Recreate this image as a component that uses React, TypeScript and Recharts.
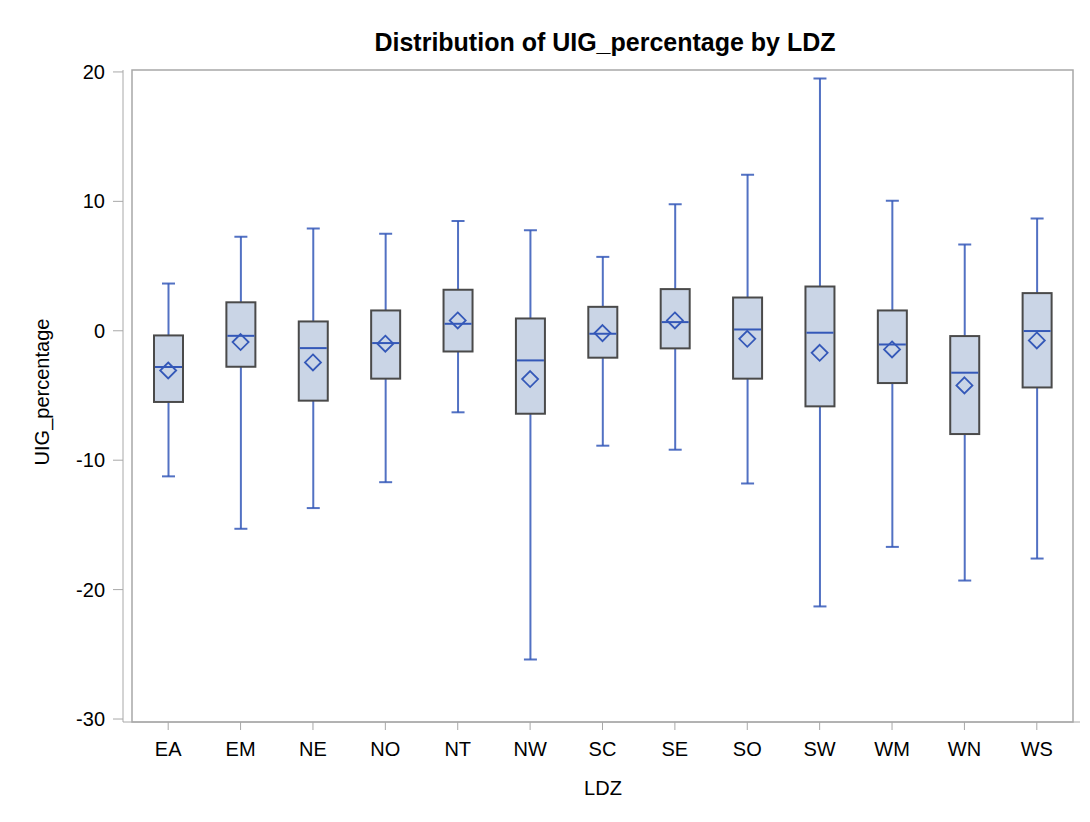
import {
    ComposedChart,
    Bar,
    Scatter,
    XAxis,
    YAxis,
    ReferenceArea,
} from 'recharts'

const ldz = ['EA', 'EM', 'NE', 'NO', 'NT', 'NW', 'SC', 'SE', 'SO', 'SW', 'WM', 'WN', 'WS']
const whiskerLow = [-11.25, -15.3, -13.7, -11.7, -6.3, -25.4, -8.88, -9.19, -11.8, -21.3, -16.7, -19.3, -17.6]
const q1 = [-5.5, -2.78, -5.4, -3.7, -1.6, -6.41, -2.08, -1.36, -3.7, -5.84, -4.04, -7.98, -4.38]
const median = [-2.8, -0.39, -1.34, -0.95, 0.54, -2.29, -0.23, 0.67, 0.1, -0.15, -1.06, -3.24, -0.02]
const q3 = [-0.36, 2.2, 0.72, 1.57, 3.17, 0.95, 1.85, 3.22, 2.57, 3.42, 1.57, -0.41, 2.91]
const whiskerHigh = [3.65, 7.26, 7.9, 7.49, 8.49, 7.77, 5.71, 9.78, 12.05, 19.5, 10.04, 6.67, 8.67]
const mean = [-3.07, -0.87, -2.45, -1.0, 0.8, -3.73, -0.18, 0.8, -0.62, -1.7, -1.44, -4.22, -0.75]

const yTicks = [-30, -20, -10, 0, 10, 20]
const yMin = -30.23
const yMax = 20.15

const data = ldz.map((name, i) => ({
    name,
    range: [whiskerLow[i], whiskerHigh[i]],
    q1: q1[i],
    median: median[i],
    q3: q3[i],
    mean: mean[i],
}))

const blue = '#3458b8'
const font = '"Liberation Sans", Arial, sans-serif'

// whiskers, box and median drawn inside the range bar (whisker low..high)
function BoxShape(props: any) {
    const { x, y, width, height, payload } = props
    const [lo, hi] = payload.range
    const toY = (v: number) => y + ((hi - v) * height) / (hi - lo)
    const cx = x + width / 2
    const cap = 6.5
    const top = toY(payload.q3)
    const bottom = toY(payload.q1)
    return (
        <g>
            <line x1={cx} x2={cx} y1={y} y2={y + height} stroke={blue} strokeOpacity={0.85} strokeWidth={2} />
            <line x1={cx - cap} x2={cx + cap} y1={y} y2={y} stroke={blue} strokeOpacity={0.85} strokeWidth={2} />
            <line x1={cx - cap} x2={cx + cap} y1={y + height} y2={y + height} stroke={blue} strokeOpacity={0.85} strokeWidth={2} />
            <rect x={x} y={top} width={width} height={bottom - top} fill="#cad5e6" stroke="#4a4a4a" strokeWidth={2} />
            <line x1={x + 1} x2={x + width - 1} y1={toY(payload.median)} y2={toY(payload.median)} stroke={blue} strokeWidth={2} />
        </g>
    )
}

function Diamond(props: any) {
    const { cx, cy } = props
    const r = 8
    return (
        <path
            d={`M${cx},${cy - r} L${cx + r},${cy} L${cx},${cy + r} L${cx - r},${cy} Z`}
            fill="none"
            stroke={blue}
            strokeWidth={1.8}
        />
    )
}

export default function App() {
    return (
        <div style={{ position: 'absolute', left: 0, top: 0, width: 1090, height: 822, background: '#fff', fontFamily: font }}>
            <div
                style={{
                    position: 'absolute',
                    left: 123,
                    width: 964,
                    top: 26,
                    textAlign: 'center',
                    fontSize: 25,
                    fontWeight: 'bold',
                    color: '#000',
                    lineHeight: '32px',
                }}
            >
                Distribution of UIG_percentage by LDZ
            </div>
            <div
                style={{
                    position: 'absolute',
                    left: 42,
                    top: 392,
                    transform: 'translate(-50%, -50%) rotate(-90deg)',
                    fontSize: 20,
                    color: '#000',
                    whiteSpace: 'nowrap',
                }}
            >
                UIG_percentage
            </div>
            <div
                style={{
                    position: 'absolute',
                    left: 123,
                    width: 960,
                    top: 776,
                    textAlign: 'center',
                    fontSize: 20,
                    color: '#000',
                    lineHeight: '24px',
                }}
            >
                LDZ
            </div>
            <ComposedChart
                width={1090}
                height={822}
                data={data}
                margin={{ top: 70, right: 10, left: 0, bottom: 0 }}
                style={{ position: 'absolute', left: 0, top: 0 }}
            >
                <XAxis
                    dataKey="name"
                    type="category"
                    height={100}
                    padding={{ left: 9, right: 7 }}
                    axisLine={{ stroke: '#a8a8a8' }}
                    tickLine={{ stroke: '#a8a8a8' }}
                    tickSize={8}
                    tickMargin={12}
                    tick={{ fontSize: 20, fill: '#000', fontFamily: font }}
                />
                <YAxis
                    type="number"
                    width={123}
                    domain={[yMin, yMax]}
                    ticks={yTicks}
                    allowDataOverflow
                    axisLine={{ stroke: '#a8a8a8' }}
                    tickLine={{ stroke: '#a8a8a8' }}
                    tickSize={10}
                    tickMargin={8}
                    tick={{ fontSize: 20, fill: '#000', fontFamily: font }}
                />
                <ReferenceArea y1={yMin} y2={yMax} fill="none" stroke="#a8a8a8" strokeWidth={1.5} ifOverflow="extendDomain" />
                <Bar dataKey="range" barSize={29} shape={BoxShape} isAnimationActive={false} />
                <Scatter dataKey="mean" shape={Diamond} isAnimationActive={false} />
            </ComposedChart>
        </div>
    )
}
